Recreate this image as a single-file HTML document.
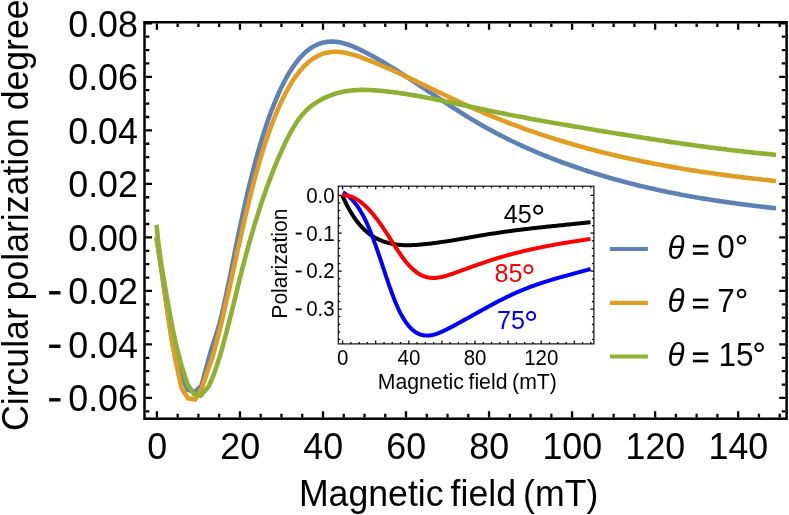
<!DOCTYPE html>
<html><head><meta charset="utf-8"><title>plot</title>
<style>html,body{margin:0;padding:0;background:#fff}body{width:789px;height:515px;overflow:hidden}svg{display:block;will-change:transform}text{font-family:"Liberation Sans",sans-serif;fill:#000}</style></head><body>
<svg width="789" height="515" viewBox="0 0 789 515">
<rect width="789" height="515" fill="#fff"/>
<path d="M156.5,237.5 L158.3,249.2 L160.1,261.2 L161.9,273.4 L163.7,285.8 L165.5,298.2 L167.4,310.5 L169.2,322.5 L171.0,334.1 L172.8,344.8 L174.6,354.4 L176.4,362.4 L181.4,377.5 L187.9,389.8 L194.8,392.0 L201.3,386.0 L208.2,360.6 L212.2,346.7 L213.6,342.4 L215.0,338.2 L216.4,333.9 L217.9,329.3 L219.3,324.3 L220.7,318.9 L222.1,313.2 L223.5,307.1 L224.9,300.8 L226.3,294.2 L227.7,287.4 L229.2,280.5 L230.6,273.6 L232.0,266.5 L233.4,259.5 L234.8,252.5 L236.2,245.5 L237.6,238.6 L239.0,231.8 L240.5,225.1 L241.9,218.4 L243.3,211.9 L244.7,205.5 L246.1,199.2 L247.5,193.1 L248.9,187.1 L250.4,181.3 L251.8,175.6 L253.2,170.1 L254.6,164.7 L256.0,159.4 L257.4,154.3 L258.8,149.4 L260.2,144.5 L261.7,139.8 L263.1,135.2 L264.5,130.8 L265.9,126.5 L267.3,122.3 L268.7,118.3 L270.1,114.3 L271.5,110.5 L273.0,106.8 L274.4,103.3 L275.8,99.8 L277.2,96.5 L278.6,93.3 L280.0,90.2 L281.4,87.2 L282.9,84.4 L284.3,81.6 L285.7,79.0 L287.1,76.4 L288.5,74.0 L289.9,71.6 L291.3,69.4 L292.7,67.3 L294.2,65.2 L295.6,63.3 L297.0,61.5 L298.4,59.7 L299.8,58.1 L301.2,56.5 L302.6,55.0 L304.0,53.6 L305.5,52.3 L306.9,51.1 L308.3,50.0 L309.7,48.9 L311.1,47.9 L312.5,47.0 L313.9,46.2 L315.4,45.5 L316.8,44.8 L318.2,44.2 L319.6,43.7 L321.0,43.2 L322.4,42.8 L323.8,42.4 L325.2,42.2 L326.7,41.9 L328.1,41.8 L329.5,41.7 L330.9,41.6 L332.3,41.6 L333.7,41.6 L335.1,41.7 L336.5,41.9 L338.0,42.1 L339.4,42.3 L340.8,42.6 L342.2,42.9 L343.6,43.3 L345.0,43.7 L346.4,44.1 L347.9,44.5 L349.3,45.0 L350.7,45.6 L352.1,46.1 L353.5,46.7 L354.9,47.3 L356.3,47.9 L357.7,48.5 L359.2,49.2 L360.6,49.9 L362.0,50.6 L363.4,51.3 L364.8,52.0 L366.2,52.7 L367.6,53.5 L369.0,54.2 L370.5,55.0 L371.9,55.7 L373.3,56.5 L374.7,57.3 L376.1,58.1 L377.5,58.9 L378.9,59.7 L380.4,60.5 L381.8,61.3 L383.2,62.2 L384.6,63.0 L386.0,63.9 L387.4,64.7 L388.8,65.6 L390.2,66.4 L391.7,67.3 L393.1,68.2 L394.5,69.0 L395.9,69.9 L397.3,70.8 L398.7,71.7 L400.1,72.6 L401.5,73.5 L403.0,74.4 L404.4,75.3 L405.8,76.3 L407.2,77.2 L408.6,78.1 L410.0,79.0 L411.4,80.0 L412.9,80.9 L414.3,81.8 L415.7,82.8 L417.1,83.7 L418.5,84.6 L419.9,85.6 L421.3,86.5 L422.7,87.5 L424.2,88.4 L425.6,89.4 L427.0,90.3 L428.4,91.3 L429.8,92.2 L431.2,93.2 L432.6,94.1 L434.0,95.0 L435.5,96.0 L436.9,96.9 L438.3,97.9 L439.7,98.8 L441.1,99.8 L442.5,100.7 L443.9,101.6 L445.4,102.6 L446.8,103.5 L448.2,104.4 L449.6,105.4 L451.0,106.3 L452.4,107.2 L453.8,108.1 L455.2,109.0 L456.7,109.9 L458.1,110.8 L459.5,111.7 L460.9,112.6 L462.3,113.5 L463.7,114.4 L465.1,115.3 L466.5,116.2 L468.0,117.0 L469.4,117.9 L470.8,118.7 L472.2,119.6 L473.6,120.4 L475.0,121.3 L476.4,122.1 L477.9,122.9 L479.3,123.7 L480.7,124.6 L482.1,125.4 L483.5,126.2 L484.9,127.0 L486.3,127.7 L487.7,128.5 L489.2,129.3 L490.6,130.1 L492.0,130.8 L493.4,131.6 L494.8,132.3 L496.2,133.1 L497.6,133.8 L499.0,134.6 L500.5,135.3 L501.9,136.0 L503.3,136.7 L504.7,137.5 L506.1,138.2 L507.5,138.9 L508.9,139.6 L510.3,140.3 L511.8,141.0 L513.2,141.6 L514.6,142.3 L516.0,143.0 L517.4,143.7 L518.8,144.3 L520.2,145.0 L521.7,145.6 L523.1,146.3 L524.5,146.9 L525.9,147.5 L527.3,148.2 L528.7,148.8 L530.1,149.4 L531.5,150.0 L533.0,150.7 L534.4,151.3 L535.8,151.9 L537.2,152.5 L538.6,153.1 L540.0,153.6 L541.4,154.2 L542.8,154.8 L544.3,155.4 L545.7,156.0 L547.1,156.5 L548.5,157.1 L549.9,157.6 L551.3,158.2 L552.7,158.8 L554.2,159.3 L555.6,159.8 L557.0,160.4 L558.4,160.9 L559.8,161.4 L561.2,162.0 L562.6,162.5 L564.0,163.0 L565.5,163.5 L566.9,164.0 L568.3,164.5 L569.7,165.0 L571.1,165.5 L572.5,166.0 L573.9,166.5 L575.3,167.0 L576.8,167.5 L578.2,168.0 L579.6,168.4 L581.0,168.9 L582.4,169.4 L583.8,169.9 L585.2,170.3 L586.7,170.8 L588.1,171.2 L589.5,171.7 L590.9,172.1 L592.3,172.6 L593.7,173.0 L595.1,173.5 L596.5,173.9 L598.0,174.3 L599.4,174.8 L600.8,175.2 L602.2,175.6 L603.6,176.0 L605.0,176.5 L606.4,176.9 L607.8,177.3 L609.3,177.7 L610.7,178.1 L612.1,178.5 L613.5,178.9 L614.9,179.3 L616.3,179.7 L617.7,180.1 L619.2,180.4 L620.6,180.8 L622.0,181.2 L623.4,181.6 L624.8,182.0 L626.2,182.3 L627.6,182.7 L629.0,183.1 L630.5,183.4 L631.9,183.8 L633.3,184.1 L634.7,184.5 L636.1,184.8 L637.5,185.2 L638.9,185.5 L640.3,185.9 L641.8,186.2 L643.2,186.6 L644.6,186.9 L646.0,187.2 L647.4,187.5 L648.8,187.9 L650.2,188.2 L651.7,188.5 L653.1,188.8 L654.5,189.1 L655.9,189.5 L657.3,189.8 L658.7,190.1 L660.1,190.4 L661.5,190.7 L663.0,191.0 L664.4,191.3 L665.8,191.6 L667.2,191.9 L668.6,192.2 L670.0,192.4 L671.4,192.7 L672.8,193.0 L674.3,193.3 L675.7,193.6 L677.1,193.8 L678.5,194.1 L679.9,194.4 L681.3,194.7 L682.7,194.9 L684.2,195.2 L685.6,195.4 L687.0,195.7 L688.4,196.0 L689.8,196.2 L691.2,196.5 L692.6,196.7 L694.0,197.0 L695.5,197.2 L696.9,197.5 L698.3,197.7 L699.7,197.9 L701.1,198.2 L702.5,198.4 L703.9,198.6 L705.3,198.9 L706.8,199.1 L708.2,199.3 L709.6,199.6 L711.0,199.8 L712.4,200.0 L713.8,200.2 L715.2,200.4 L716.7,200.7 L718.1,200.9 L719.5,201.1 L720.9,201.3 L722.3,201.5 L723.7,201.7 L725.1,201.9 L726.5,202.1 L728.0,202.3 L729.4,202.5 L730.8,202.7 L732.2,202.9 L733.6,203.1 L735.0,203.3 L736.4,203.5 L737.8,203.7 L739.3,203.9 L740.7,204.1 L742.1,204.2 L743.5,204.4 L744.9,204.6 L746.3,204.8 L747.7,205.0 L749.2,205.1 L750.6,205.3 L752.0,205.5 L753.4,205.7 L754.8,205.8 L756.2,206.0 L757.6,206.2 L759.0,206.3 L760.5,206.5 L761.9,206.7 L763.3,206.8 L764.7,207.0 L766.1,207.1 L767.5,207.3 L768.9,207.5 L770.3,207.6 L771.8,207.8 L773.2,207.9 L774.6,208.1 L776.0,208.2" fill="none" stroke="#5e81b5" stroke-width="4.6" stroke-linejoin="miter" stroke-linecap="butt"/>
<path d="M156.5,237.5 L158.4,248.8 L160.3,261.1 L162.3,274.3 L164.2,287.8 L166.1,301.5 L168.0,314.9 L169.9,327.7 L171.8,339.7 L173.8,350.8 L175.7,360.9 L177.6,370.0 L181.6,388.2 L188.0,398.3 L195.2,399.5 L201.6,389.0 L208.4,368.6 L212.4,357.4 L213.8,352.3 L215.2,347.1 L216.6,341.8 L218.1,336.2 L219.5,330.6 L220.9,324.8 L222.3,318.9 L223.7,312.9 L225.1,306.8 L226.5,300.6 L227.9,294.4 L229.4,288.1 L230.8,281.7 L232.2,275.3 L233.6,268.9 L235.0,262.5 L236.4,256.1 L237.8,249.7 L239.2,243.4 L240.7,237.0 L242.1,230.8 L243.5,224.6 L244.9,218.4 L246.3,212.4 L247.7,206.4 L249.1,200.6 L250.5,194.9 L252.0,189.3 L253.4,183.8 L254.8,178.5 L256.2,173.3 L257.6,168.3 L259.0,163.3 L260.4,158.5 L261.8,153.9 L263.3,149.3 L264.7,144.9 L266.1,140.6 L267.5,136.5 L268.9,132.4 L270.3,128.5 L271.7,124.7 L273.1,121.0 L274.6,117.4 L276.0,113.9 L277.4,110.5 L278.8,107.3 L280.2,104.2 L281.6,101.1 L283.0,98.2 L284.4,95.4 L285.9,92.7 L287.3,90.0 L288.7,87.5 L290.1,85.1 L291.5,82.8 L292.9,80.6 L294.3,78.5 L295.7,76.4 L297.2,74.5 L298.6,72.7 L300.0,70.9 L301.4,69.2 L302.8,67.7 L304.2,66.2 L305.6,64.8 L307.0,63.4 L308.5,62.2 L309.9,61.0 L311.3,60.0 L312.7,58.9 L314.1,58.0 L315.5,57.2 L316.9,56.4 L318.3,55.6 L319.8,55.0 L321.2,54.4 L322.6,53.9 L324.0,53.4 L325.4,53.0 L326.8,52.7 L328.2,52.4 L329.6,52.2 L331.1,52.0 L332.5,51.9 L333.9,51.8 L335.3,51.8 L336.7,51.8 L338.1,51.9 L339.5,52.0 L340.9,52.1 L342.4,52.3 L343.8,52.5 L345.2,52.8 L346.6,53.0 L348.0,53.4 L349.4,53.7 L350.8,54.1 L352.2,54.5 L353.7,54.9 L355.1,55.3 L356.5,55.8 L357.9,56.2 L359.3,56.7 L360.7,57.2 L362.1,57.8 L363.5,58.3 L365.0,58.8 L366.4,59.4 L367.8,59.9 L369.2,60.5 L370.6,61.0 L372.0,61.6 L373.4,62.2 L374.8,62.7 L376.3,63.3 L377.7,63.9 L379.1,64.5 L380.5,65.1 L381.9,65.7 L383.3,66.3 L384.7,66.9 L386.1,67.5 L387.6,68.1 L389.0,68.7 L390.4,69.4 L391.8,70.0 L393.2,70.6 L394.6,71.3 L396.0,71.9 L397.4,72.5 L398.9,73.2 L400.3,73.8 L401.7,74.5 L403.1,75.1 L404.5,75.8 L405.9,76.5 L407.3,77.1 L408.7,77.8 L410.2,78.4 L411.6,79.1 L413.0,79.8 L414.4,80.4 L415.8,81.1 L417.2,81.8 L418.6,82.5 L420.0,83.1 L421.5,83.8 L422.9,84.5 L424.3,85.2 L425.7,85.9 L427.1,86.5 L428.5,87.2 L429.9,87.9 L431.3,88.6 L432.8,89.3 L434.2,89.9 L435.6,90.6 L437.0,91.3 L438.4,92.0 L439.8,92.7 L441.2,93.3 L442.6,94.0 L444.1,94.7 L445.5,95.4 L446.9,96.0 L448.3,96.7 L449.7,97.4 L451.1,98.1 L452.5,98.7 L453.9,99.4 L455.4,100.1 L456.8,100.7 L458.2,101.4 L459.6,102.0 L461.0,102.7 L462.4,103.3 L463.8,104.0 L465.2,104.6 L466.7,105.3 L468.1,105.9 L469.5,106.6 L470.9,107.2 L472.3,107.8 L473.7,108.5 L475.1,109.1 L476.5,109.7 L478.0,110.3 L479.4,110.9 L480.8,111.5 L482.2,112.1 L483.6,112.7 L485.0,113.3 L486.4,113.9 L487.8,114.5 L489.3,115.1 L490.7,115.7 L492.1,116.3 L493.5,116.9 L494.9,117.4 L496.3,118.0 L497.7,118.6 L499.1,119.1 L500.6,119.7 L502.0,120.3 L503.4,120.8 L504.8,121.4 L506.2,121.9 L507.6,122.5 L509.0,123.0 L510.4,123.5 L511.9,124.1 L513.3,124.6 L514.7,125.1 L516.1,125.7 L517.5,126.2 L518.9,126.7 L520.3,127.2 L521.7,127.7 L523.2,128.3 L524.6,128.8 L526.0,129.3 L527.4,129.8 L528.8,130.3 L530.2,130.8 L531.6,131.3 L533.0,131.7 L534.5,132.2 L535.9,132.7 L537.3,133.2 L538.7,133.7 L540.1,134.1 L541.5,134.6 L542.9,135.1 L544.3,135.5 L545.8,136.0 L547.2,136.5 L548.6,136.9 L550.0,137.4 L551.4,137.8 L552.8,138.3 L554.2,138.7 L555.6,139.2 L557.1,139.6 L558.5,140.0 L559.9,140.5 L561.3,140.9 L562.7,141.3 L564.1,141.8 L565.5,142.2 L566.9,142.6 L568.4,143.0 L569.8,143.4 L571.2,143.8 L572.6,144.3 L574.0,144.7 L575.4,145.1 L576.8,145.5 L578.2,145.9 L579.7,146.3 L581.1,146.7 L582.5,147.0 L583.9,147.4 L585.3,147.8 L586.7,148.2 L588.1,148.6 L589.5,149.0 L591.0,149.3 L592.4,149.7 L593.8,150.1 L595.2,150.4 L596.6,150.8 L598.0,151.2 L599.4,151.5 L600.8,151.9 L602.3,152.2 L603.7,152.6 L605.1,152.9 L606.5,153.3 L607.9,153.6 L609.3,154.0 L610.7,154.3 L612.1,154.7 L613.6,155.0 L615.0,155.3 L616.4,155.7 L617.8,156.0 L619.2,156.3 L620.6,156.6 L622.0,157.0 L623.4,157.3 L624.9,157.6 L626.3,157.9 L627.7,158.2 L629.1,158.5 L630.5,158.8 L631.9,159.1 L633.3,159.4 L634.7,159.7 L636.2,160.0 L637.6,160.3 L639.0,160.6 L640.4,160.9 L641.8,161.2 L643.2,161.5 L644.6,161.8 L646.0,162.1 L647.5,162.4 L648.9,162.6 L650.3,162.9 L651.7,163.2 L653.1,163.5 L654.5,163.7 L655.9,164.0 L657.3,164.3 L658.8,164.6 L660.2,164.8 L661.6,165.1 L663.0,165.3 L664.4,165.6 L665.8,165.9 L667.2,166.1 L668.6,166.4 L670.1,166.6 L671.5,166.9 L672.9,167.1 L674.3,167.4 L675.7,167.6 L677.1,167.8 L678.5,168.1 L679.9,168.3 L681.4,168.6 L682.8,168.8 L684.2,169.0 L685.6,169.3 L687.0,169.5 L688.4,169.7 L689.8,169.9 L691.2,170.2 L692.7,170.4 L694.1,170.6 L695.5,170.8 L696.9,171.0 L698.3,171.3 L699.7,171.5 L701.1,171.7 L702.5,171.9 L704.0,172.1 L705.4,172.3 L706.8,172.5 L708.2,172.7 L709.6,172.9 L711.0,173.1 L712.4,173.3 L713.8,173.5 L715.3,173.7 L716.7,173.9 L718.1,174.1 L719.5,174.3 L720.9,174.5 L722.3,174.7 L723.7,174.9 L725.1,175.1 L726.6,175.3 L728.0,175.4 L729.4,175.6 L730.8,175.8 L732.2,176.0 L733.6,176.2 L735.0,176.4 L736.4,176.5 L737.9,176.7 L739.3,176.9 L740.7,177.1 L742.1,177.2 L743.5,177.4 L744.9,177.6 L746.3,177.7 L747.7,177.9 L749.2,178.1 L750.6,178.2 L752.0,178.4 L753.4,178.6 L754.8,178.7 L756.2,178.9 L757.6,179.0 L759.0,179.2 L760.5,179.4 L761.9,179.5 L763.3,179.7 L764.7,179.8 L766.1,180.0 L767.5,180.1 L768.9,180.3 L770.3,180.4 L771.8,180.6 L773.2,180.7 L774.6,180.9 L776.0,181.0" fill="none" stroke="#e19c24" stroke-width="4.6" stroke-linejoin="miter" stroke-linecap="butt"/>
<path d="M156.5,224.8 L158.2,241.8 L160.0,255.5 L161.7,267.0 L163.5,277.5 L165.2,287.7 L167.0,297.8 L168.7,307.6 L170.5,317.2 L172.2,326.3 L174.0,335.1 L175.7,343.4 L181.2,364.8 L187.8,384.9 L194.3,394.4 L200.7,395.6 L208.7,386.4 L212.7,377.2 L214.1,373.5 L215.5,369.6 L216.9,365.4 L218.3,361.0 L219.8,356.4 L221.2,351.6 L222.6,346.6 L224.0,341.5 L225.4,336.2 L226.8,330.8 L228.2,325.4 L229.6,319.8 L231.1,314.1 L232.5,308.5 L233.9,302.7 L235.3,297.0 L236.7,291.3 L238.1,285.6 L239.5,279.9 L240.9,274.3 L242.3,268.7 L243.8,263.3 L245.2,257.9 L246.6,252.6 L248.0,247.5 L249.4,242.4 L250.8,237.5 L252.2,232.6 L253.6,227.8 L255.1,223.1 L256.5,218.5 L257.9,214.0 L259.3,209.6 L260.7,205.3 L262.1,201.1 L263.5,196.9 L264.9,192.9 L266.3,188.9 L267.8,185.0 L269.2,181.1 L270.6,177.4 L272.0,173.7 L273.4,170.1 L274.8,166.6 L276.2,163.2 L277.6,159.8 L279.1,156.5 L280.5,153.3 L281.9,150.1 L283.3,147.0 L284.7,144.0 L286.1,141.1 L287.5,138.3 L288.9,135.5 L290.3,132.9 L291.8,130.3 L293.2,127.9 L294.6,125.6 L296.0,123.3 L297.4,121.2 L298.8,119.2 L300.2,117.3 L301.6,115.6 L303.1,113.9 L304.5,112.3 L305.9,110.9 L307.3,109.5 L308.7,108.2 L310.1,107.0 L311.5,105.9 L312.9,104.8 L314.3,103.8 L315.8,102.9 L317.2,102.0 L318.6,101.1 L320.0,100.3 L321.4,99.5 L322.8,98.8 L324.2,98.1 L325.6,97.4 L327.1,96.8 L328.5,96.2 L329.9,95.6 L331.3,95.1 L332.7,94.6 L334.1,94.1 L335.5,93.6 L336.9,93.2 L338.3,92.8 L339.8,92.5 L341.2,92.2 L342.6,91.8 L344.0,91.6 L345.4,91.3 L346.8,91.1 L348.2,90.9 L349.6,90.7 L351.1,90.5 L352.5,90.4 L353.9,90.3 L355.3,90.2 L356.7,90.1 L358.1,90.0 L359.5,90.0 L360.9,89.9 L362.3,89.9 L363.8,89.9 L365.2,89.9 L366.6,90.0 L368.0,90.0 L369.4,90.0 L370.8,90.1 L372.2,90.2 L373.6,90.3 L375.1,90.4 L376.5,90.5 L377.9,90.6 L379.3,90.7 L380.7,90.8 L382.1,91.0 L383.5,91.1 L384.9,91.2 L386.3,91.4 L387.8,91.6 L389.2,91.7 L390.6,91.9 L392.0,92.0 L393.4,92.2 L394.8,92.4 L396.2,92.6 L397.6,92.8 L399.1,93.0 L400.5,93.2 L401.9,93.4 L403.3,93.6 L404.7,93.8 L406.1,94.0 L407.5,94.2 L408.9,94.5 L410.3,94.7 L411.8,94.9 L413.2,95.2 L414.6,95.4 L416.0,95.6 L417.4,95.9 L418.8,96.1 L420.2,96.4 L421.6,96.6 L423.1,96.9 L424.5,97.2 L425.9,97.4 L427.3,97.7 L428.7,98.0 L430.1,98.2 L431.5,98.5 L432.9,98.8 L434.3,99.1 L435.8,99.4 L437.2,99.6 L438.6,99.9 L440.0,100.2 L441.4,100.5 L442.8,100.8 L444.2,101.1 L445.6,101.4 L447.1,101.7 L448.5,102.0 L449.9,102.3 L451.3,102.6 L452.7,102.9 L454.1,103.2 L455.5,103.5 L456.9,103.8 L458.3,104.1 L459.8,104.4 L461.2,104.7 L462.6,105.0 L464.0,105.3 L465.4,105.6 L466.8,105.9 L468.2,106.2 L469.6,106.5 L471.1,106.8 L472.5,107.1 L473.9,107.4 L475.3,107.7 L476.7,108.0 L478.1,108.3 L479.5,108.6 L480.9,108.9 L482.3,109.2 L483.8,109.5 L485.2,109.8 L486.6,110.1 L488.0,110.4 L489.4,110.7 L490.8,111.0 L492.2,111.3 L493.6,111.6 L495.1,111.9 L496.5,112.1 L497.9,112.4 L499.3,112.7 L500.7,113.0 L502.1,113.3 L503.5,113.6 L504.9,113.8 L506.4,114.1 L507.8,114.4 L509.2,114.7 L510.6,114.9 L512.0,115.2 L513.4,115.5 L514.8,115.7 L516.2,116.0 L517.6,116.3 L519.1,116.5 L520.5,116.8 L521.9,117.1 L523.3,117.3 L524.7,117.6 L526.1,117.9 L527.5,118.1 L528.9,118.4 L530.4,118.7 L531.8,118.9 L533.2,119.2 L534.6,119.4 L536.0,119.7 L537.4,119.9 L538.8,120.2 L540.2,120.4 L541.6,120.7 L543.1,120.9 L544.5,121.2 L545.9,121.5 L547.3,121.7 L548.7,122.0 L550.1,122.2 L551.5,122.4 L552.9,122.7 L554.4,122.9 L555.8,123.2 L557.2,123.4 L558.6,123.7 L560.0,123.9 L561.4,124.2 L562.8,124.4 L564.2,124.7 L565.6,124.9 L567.1,125.1 L568.5,125.4 L569.9,125.6 L571.3,125.9 L572.7,126.1 L574.1,126.4 L575.5,126.6 L576.9,126.8 L578.4,127.1 L579.8,127.3 L581.2,127.6 L582.6,127.8 L584.0,128.0 L585.4,128.3 L586.8,128.5 L588.2,128.8 L589.6,129.0 L591.1,129.2 L592.5,129.5 L593.9,129.7 L595.3,129.9 L596.7,130.2 L598.1,130.4 L599.5,130.7 L600.9,130.9 L602.4,131.1 L603.8,131.4 L605.2,131.6 L606.6,131.8 L608.0,132.1 L609.4,132.3 L610.8,132.5 L612.2,132.8 L613.6,133.0 L615.1,133.2 L616.5,133.5 L617.9,133.7 L619.3,133.9 L620.7,134.1 L622.1,134.4 L623.5,134.6 L624.9,134.8 L626.4,135.1 L627.8,135.3 L629.2,135.5 L630.6,135.7 L632.0,136.0 L633.4,136.2 L634.8,136.4 L636.2,136.6 L637.6,136.9 L639.1,137.1 L640.5,137.3 L641.9,137.5 L643.3,137.8 L644.7,138.0 L646.1,138.2 L647.5,138.4 L648.9,138.6 L650.4,138.9 L651.8,139.1 L653.2,139.3 L654.6,139.5 L656.0,139.7 L657.4,139.9 L658.8,140.2 L660.2,140.4 L661.6,140.6 L663.1,140.8 L664.5,141.0 L665.9,141.2 L667.3,141.4 L668.7,141.6 L670.1,141.9 L671.5,142.1 L672.9,142.3 L674.4,142.5 L675.8,142.7 L677.2,142.9 L678.6,143.1 L680.0,143.3 L681.4,143.5 L682.8,143.7 L684.2,143.9 L685.6,144.1 L687.1,144.3 L688.5,144.5 L689.9,144.7 L691.3,144.9 L692.7,145.1 L694.1,145.3 L695.5,145.5 L696.9,145.7 L698.4,145.9 L699.8,146.1 L701.2,146.2 L702.6,146.4 L704.0,146.6 L705.4,146.8 L706.8,147.0 L708.2,147.2 L709.6,147.4 L711.1,147.6 L712.5,147.7 L713.9,147.9 L715.3,148.1 L716.7,148.3 L718.1,148.5 L719.5,148.6 L720.9,148.8 L722.4,149.0 L723.8,149.2 L725.2,149.3 L726.6,149.5 L728.0,149.7 L729.4,149.9 L730.8,150.0 L732.2,150.2 L733.6,150.4 L735.1,150.5 L736.5,150.7 L737.9,150.8 L739.3,151.0 L740.7,151.2 L742.1,151.3 L743.5,151.5 L744.9,151.7 L746.4,151.8 L747.8,152.0 L749.2,152.1 L750.6,152.3 L752.0,152.4 L753.4,152.6 L754.8,152.7 L756.2,152.9 L757.6,153.0 L759.1,153.2 L760.5,153.3 L761.9,153.5 L763.3,153.6 L764.7,153.7 L766.1,153.9 L767.5,154.0 L768.9,154.1 L770.4,154.3 L771.8,154.4 L773.2,154.6 L774.6,154.7 L776.0,154.8" fill="none" stroke="#8fb032" stroke-width="4.6" stroke-linejoin="miter" stroke-linecap="butt"/>
<rect x="144.5" y="22.25" width="642.1" height="396.45" fill="none" stroke="#000" stroke-width="2.5"/>
<path d="M156.90,23.5v6.2M156.90,417.45v-6.2M177.66,23.5v3.6M177.66,417.45v-3.6M198.42,23.5v3.6M198.42,417.45v-3.6M219.18,23.5v3.6M219.18,417.45v-3.6M239.94,23.5v6.2M239.94,417.45v-6.2M260.70,23.5v3.6M260.70,417.45v-3.6M281.46,23.5v3.6M281.46,417.45v-3.6M302.22,23.5v3.6M302.22,417.45v-3.6M322.98,23.5v6.2M322.98,417.45v-6.2M343.74,23.5v3.6M343.74,417.45v-3.6M364.50,23.5v3.6M364.50,417.45v-3.6M385.26,23.5v3.6M385.26,417.45v-3.6M406.02,23.5v6.2M406.02,417.45v-6.2M426.78,23.5v3.6M426.78,417.45v-3.6M447.54,23.5v3.6M447.54,417.45v-3.6M468.30,23.5v3.6M468.30,417.45v-3.6M489.06,23.5v6.2M489.06,417.45v-6.2M509.82,23.5v3.6M509.82,417.45v-3.6M530.58,23.5v3.6M530.58,417.45v-3.6M551.34,23.5v3.6M551.34,417.45v-3.6M572.10,23.5v6.2M572.10,417.45v-6.2M592.86,23.5v3.6M592.86,417.45v-3.6M613.62,23.5v3.6M613.62,417.45v-3.6M634.38,23.5v3.6M634.38,417.45v-3.6M655.14,23.5v6.2M655.14,417.45v-6.2M675.90,23.5v3.6M675.90,417.45v-3.6M696.66,23.5v3.6M696.66,417.45v-3.6M717.42,23.5v3.6M717.42,417.45v-3.6M738.18,23.5v6.2M738.18,417.45v-6.2M758.94,23.5v3.6M758.94,417.45v-3.6M779.70,23.5v3.6M779.70,417.45v-3.6M145.75,411.34h3.6M785.35,411.34h-3.6M145.75,397.96h6.2M785.35,397.96h-6.2M145.75,384.58h3.6M785.35,384.58h-3.6M145.75,371.20h3.6M785.35,371.20h-3.6M145.75,357.82h3.6M785.35,357.82h-3.6M145.75,344.44h6.2M785.35,344.44h-6.2M145.75,331.06h3.6M785.35,331.06h-3.6M145.75,317.68h3.6M785.35,317.68h-3.6M145.75,304.30h3.6M785.35,304.30h-3.6M145.75,290.92h6.2M785.35,290.92h-6.2M145.75,277.54h3.6M785.35,277.54h-3.6M145.75,264.16h3.6M785.35,264.16h-3.6M145.75,250.78h3.6M785.35,250.78h-3.6M145.75,237.40h6.2M785.35,237.40h-6.2M145.75,224.02h3.6M785.35,224.02h-3.6M145.75,210.64h3.6M785.35,210.64h-3.6M145.75,197.26h3.6M785.35,197.26h-3.6M145.75,183.88h6.2M785.35,183.88h-6.2M145.75,170.50h3.6M785.35,170.50h-3.6M145.75,157.12h3.6M785.35,157.12h-3.6M145.75,143.74h3.6M785.35,143.74h-3.6M145.75,130.36h6.2M785.35,130.36h-6.2M145.75,116.98h3.6M785.35,116.98h-3.6M145.75,103.60h3.6M785.35,103.60h-3.6M145.75,90.22h3.6M785.35,90.22h-3.6M145.75,76.84h6.2M785.35,76.84h-6.2M145.75,63.46h3.6M785.35,63.46h-3.6M145.75,50.08h3.6M785.35,50.08h-3.6M145.75,36.70h3.6M785.35,36.70h-3.6M145.75,23.32h6.2M785.35,23.32h-6.2" stroke="#000" stroke-width="2.3" fill="none"/>
<text transform="translate(157.10,458.60) scale(1,1.05)" font-size="35.8" text-anchor="middle">0</text>
<text transform="translate(240.14,458.60) scale(1,1.05)" font-size="35.8" text-anchor="middle">20</text>
<text transform="translate(323.18,458.60) scale(1,1.05)" font-size="35.8" text-anchor="middle">40</text>
<text transform="translate(406.22,458.60) scale(1,1.05)" font-size="35.8" text-anchor="middle">60</text>
<text transform="translate(489.26,458.60) scale(1,1.05)" font-size="35.8" text-anchor="middle">80</text>
<text transform="translate(572.30,458.60) scale(1,1.05)" font-size="35.8" text-anchor="middle">100</text>
<text transform="translate(655.34,458.60) scale(1,1.05)" font-size="35.8" text-anchor="middle">120</text>
<text transform="translate(738.38,458.60) scale(1,1.05)" font-size="35.8" text-anchor="middle">140</text>
<text transform="translate(137.90,411.26) scale(1,1.05)" font-size="35.8" text-anchor="end">0.06</text>
<rect x="49.1" y="398.11" width="11.4" height="3.4" fill="#000"/>
<text transform="translate(137.90,357.74) scale(1,1.05)" font-size="35.8" text-anchor="end">0.04</text>
<rect x="49.1" y="344.59" width="11.4" height="3.4" fill="#000"/>
<text transform="translate(137.90,304.22) scale(1,1.05)" font-size="35.8" text-anchor="end">0.02</text>
<rect x="49.1" y="291.07" width="11.4" height="3.4" fill="#000"/>
<text transform="translate(137.90,250.70) scale(1,1.05)" font-size="35.8" text-anchor="end">0.00</text>
<text transform="translate(137.90,197.18) scale(1,1.05)" font-size="35.8" text-anchor="end">0.02</text>
<text transform="translate(137.90,143.66) scale(1,1.05)" font-size="35.8" text-anchor="end">0.04</text>
<text transform="translate(137.90,90.14) scale(1,1.05)" font-size="35.8" text-anchor="end">0.06</text>
<text transform="translate(137.90,36.62) scale(1,1.05)" font-size="35.8" text-anchor="end">0.08</text>
<text transform="translate(448.60,505.90) scale(1,1.02)" font-size="35.66" text-anchor="middle" word-spacing="-2.8">Magnetic field (mT)</text>
<text transform="translate(27.80,215.20) rotate(-90) scale(1,1.02)" font-size="35.66" text-anchor="middle" word-spacing="-2.1">Circular polarization degree</text>
<path d="M609.9,249.0H647.9" stroke="#5e81b5" stroke-width="4.2" fill="none"/>
<text transform="translate(667.60,258.50) scale(1,1.03)" font-size="31.5" text-anchor="start" font-style="italic">θ</text>
<rect x="692.9" y="244.85" width="15.4" height="2.6" fill="#000"/><rect x="692.9" y="252.20" width="15.4" height="2.6" fill="#000"/>
<text transform="translate(717.20,258.30) scale(1,1.06)" font-size="31.5" text-anchor="start">0</text>
<circle cx="741.5" cy="239.80" r="3.8" fill="none" stroke="#000" stroke-width="2"/>
<path d="M609.9,302.8H647.9" stroke="#e19c24" stroke-width="4.2" fill="none"/>
<text transform="translate(667.60,312.25) scale(1,1.03)" font-size="31.5" text-anchor="start" font-style="italic">θ</text>
<rect x="692.9" y="298.60" width="15.4" height="2.6" fill="#000"/><rect x="692.9" y="305.95" width="15.4" height="2.6" fill="#000"/>
<text transform="translate(717.20,312.05) scale(1,1.06)" font-size="31.5" text-anchor="start">7</text>
<circle cx="741.6" cy="293.55" r="3.8" fill="none" stroke="#000" stroke-width="2"/>
<path d="M609.9,356.5H647.9" stroke="#8fb032" stroke-width="4.2" fill="none"/>
<text transform="translate(667.60,366.00) scale(1,1.03)" font-size="31.5" text-anchor="start" font-style="italic">θ</text>
<rect x="692.9" y="352.35" width="15.4" height="2.6" fill="#000"/><rect x="692.9" y="359.70" width="15.4" height="2.6" fill="#000"/>
<text transform="translate(718.60,365.80) scale(1,1.06)" font-size="31.5" text-anchor="start">15</text>
<circle cx="759.1" cy="347.30" r="3.8" fill="none" stroke="#000" stroke-width="2"/>
<path d="M342.2,195.3 L342.8,196.7 L343.4,198.0 L344.1,199.4 L344.7,200.7 L345.3,202.0 L345.9,203.2 L346.6,204.5 L347.2,205.7 L347.8,206.8 L348.4,208.0 L349.0,209.1 L349.7,210.2 L350.3,211.3 L350.9,212.3 L351.5,213.4 L352.2,214.4 L352.8,215.3 L353.4,216.3 L354.0,217.2 L354.6,218.1 L355.3,219.0 L355.9,219.9 L356.5,220.7 L357.1,221.6 L357.8,222.4 L358.4,223.1 L359.0,223.9 L359.6,224.6 L360.2,225.4 L360.9,226.1 L361.5,226.7 L362.1,227.4 L362.7,228.1 L363.4,228.7 L364.0,229.3 L364.6,229.9 L365.2,230.5 L365.8,231.0 L366.5,231.6 L367.1,232.1 L367.7,232.6 L368.3,233.1 L369.0,233.6 L369.6,234.1 L370.2,234.5 L370.8,235.0 L371.4,235.4 L372.1,235.8 L372.7,236.2 L373.3,236.6 L373.9,237.0 L374.6,237.3 L375.2,237.7 L375.8,238.0 L376.4,238.3 L377.0,238.7 L377.7,239.0 L378.3,239.3 L378.9,239.6 L379.5,239.8 L380.2,240.1 L380.8,240.4 L381.4,240.6 L382.0,240.9 L382.6,241.1 L383.3,241.3 L383.9,241.6 L384.5,241.8 L385.1,242.0 L385.8,242.2 L386.4,242.4 L387.0,242.6 L387.6,242.7 L388.3,242.9 L388.9,243.1 L389.5,243.2 L390.1,243.4 L390.7,243.5 L391.4,243.7 L392.0,243.8 L392.6,243.9 L393.2,244.0 L393.9,244.1 L394.5,244.2 L395.1,244.3 L395.7,244.4 L396.3,244.5 L397.0,244.6 L397.6,244.7 L398.2,244.8 L398.8,244.8 L399.5,244.9 L400.1,244.9 L400.7,245.0 L401.3,245.0 L401.9,245.1 L402.6,245.1 L403.2,245.1 L403.8,245.2 L404.4,245.2 L405.1,245.2 L405.7,245.2 L406.3,245.2 L406.9,245.2 L407.5,245.2 L408.2,245.2 L408.8,245.2 L409.4,245.2 L410.0,245.2 L410.7,245.2 L411.3,245.2 L411.9,245.1 L412.5,245.1 L413.1,245.1 L413.8,245.0 L414.4,245.0 L415.0,245.0 L415.6,244.9 L416.3,244.9 L416.9,244.9 L417.5,244.8 L418.1,244.8 L418.7,244.7 L419.4,244.7 L420.0,244.6 L420.6,244.6 L421.2,244.5 L421.9,244.4 L422.5,244.4 L423.1,244.3 L423.7,244.3 L424.3,244.2 L425.0,244.1 L425.6,244.1 L426.2,244.0 L426.8,243.9 L427.5,243.9 L428.1,243.8 L428.7,243.7 L429.3,243.7 L429.9,243.6 L430.6,243.5 L431.2,243.4 L431.8,243.4 L432.4,243.3 L433.1,243.2 L433.7,243.1 L434.3,243.0 L434.9,243.0 L435.5,242.9 L436.2,242.8 L436.8,242.7 L437.4,242.6 L438.0,242.5 L438.7,242.5 L439.3,242.4 L439.9,242.3 L440.5,242.2 L441.1,242.1 L441.8,242.0 L442.4,241.9 L443.0,241.8 L443.6,241.7 L444.3,241.7 L444.9,241.6 L445.5,241.5 L446.1,241.4 L446.7,241.3 L447.4,241.2 L448.0,241.1 L448.6,241.0 L449.2,240.9 L449.9,240.8 L450.5,240.7 L451.1,240.6 L451.7,240.5 L452.3,240.4 L453.0,240.3 L453.6,240.2 L454.2,240.1 L454.8,240.0 L455.5,239.9 L456.1,239.8 L456.7,239.7 L457.3,239.6 L457.9,239.4 L458.6,239.3 L459.2,239.2 L459.8,239.1 L460.4,239.0 L461.1,238.9 L461.7,238.8 L462.3,238.7 L462.9,238.6 L463.5,238.5 L464.2,238.4 L464.8,238.3 L465.4,238.2 L466.0,238.1 L466.7,238.0 L467.3,237.8 L467.9,237.7 L468.5,237.6 L469.2,237.5 L469.8,237.4 L470.4,237.3 L471.0,237.2 L471.6,237.1 L472.3,237.0 L472.9,236.9 L473.5,236.8 L474.1,236.7 L474.8,236.5 L475.4,236.4 L476.0,236.3 L476.6,236.2 L477.2,236.1 L477.9,236.0 L478.5,235.9 L479.1,235.8 L479.7,235.7 L480.4,235.6 L481.0,235.5 L481.6,235.4 L482.2,235.3 L482.8,235.2 L483.5,235.1 L484.1,235.0 L484.7,234.9 L485.3,234.8 L486.0,234.6 L486.6,234.5 L487.2,234.4 L487.8,234.3 L488.4,234.2 L489.1,234.1 L489.7,234.0 L490.3,233.9 L490.9,233.8 L491.6,233.7 L492.2,233.6 L492.8,233.6 L493.4,233.5 L494.0,233.4 L494.7,233.3 L495.3,233.2 L495.9,233.1 L496.5,233.0 L497.2,232.9 L497.8,232.8 L498.4,232.7 L499.0,232.6 L499.6,232.5 L500.3,232.4 L500.9,232.3 L501.5,232.2 L502.1,232.2 L502.8,232.1 L503.4,232.0 L504.0,231.9 L504.6,231.8 L505.2,231.7 L505.9,231.6 L506.5,231.5 L507.1,231.5 L507.7,231.4 L508.4,231.3 L509.0,231.2 L509.6,231.1 L510.2,231.0 L510.8,231.0 L511.5,230.9 L512.1,230.8 L512.7,230.7 L513.3,230.6 L514.0,230.5 L514.6,230.5 L515.2,230.4 L515.8,230.3 L516.4,230.2 L517.1,230.1 L517.7,230.1 L518.3,230.0 L518.9,229.9 L519.6,229.8 L520.2,229.8 L520.8,229.7 L521.4,229.6 L522.0,229.5 L522.7,229.4 L523.3,229.4 L523.9,229.3 L524.5,229.2 L525.2,229.1 L525.8,229.1 L526.4,229.0 L527.0,228.9 L527.6,228.9 L528.3,228.8 L528.9,228.7 L529.5,228.6 L530.1,228.6 L530.8,228.5 L531.4,228.4 L532.0,228.3 L532.6,228.3 L533.2,228.2 L533.9,228.1 L534.5,228.1 L535.1,228.0 L535.7,227.9 L536.4,227.9 L537.0,227.8 L537.6,227.7 L538.2,227.6 L538.8,227.6 L539.5,227.5 L540.1,227.4 L540.7,227.4 L541.3,227.3 L542.0,227.2 L542.6,227.2 L543.2,227.1 L543.8,227.0 L544.4,227.0 L545.1,226.9 L545.7,226.8 L546.3,226.8 L546.9,226.7 L547.6,226.6 L548.2,226.6 L548.8,226.5 L549.4,226.4 L550.1,226.4 L550.7,226.3 L551.3,226.2 L551.9,226.2 L552.5,226.1 L553.2,226.0 L553.8,226.0 L554.4,225.9 L555.0,225.9 L555.7,225.8 L556.3,225.7 L556.9,225.7 L557.5,225.6 L558.1,225.5 L558.8,225.5 L559.4,225.4 L560.0,225.3 L560.6,225.3 L561.3,225.2 L561.9,225.2 L562.5,225.1 L563.1,225.0 L563.7,225.0 L564.4,224.9 L565.0,224.8 L565.6,224.8 L566.2,224.7 L566.9,224.6 L567.5,224.6 L568.1,224.5 L568.7,224.5 L569.3,224.4 L570.0,224.3 L570.6,224.3 L571.2,224.2 L571.8,224.1 L572.5,224.1 L573.1,224.0 L573.7,223.9 L574.3,223.9 L574.9,223.8 L575.6,223.8 L576.2,223.7 L576.8,223.6 L577.4,223.6 L578.1,223.5 L578.7,223.4 L579.3,223.4 L579.9,223.3 L580.5,223.2 L581.2,223.2 L581.8,223.1 L582.4,223.0 L583.0,223.0 L583.7,222.9 L584.3,222.9 L584.9,222.8 L585.5,222.7 L586.1,222.7 L586.8,222.6 L587.4,222.5 L588.0,222.5 L588.6,222.4 L589.3,222.3 L589.9,222.3 L590.5,222.2" fill="none" stroke="#000" stroke-width="4.0" stroke-linejoin="round"/>
<path d="M342.9,192.3 L343.5,192.6 L344.1,193.0 L344.8,193.4 L345.4,193.8 L346.0,194.2 L346.6,194.7 L347.2,195.2 L347.9,195.7 L348.5,196.2 L349.1,196.7 L349.7,197.3 L350.3,197.9 L351.0,198.5 L351.6,199.1 L352.2,199.7 L352.8,200.4 L353.4,201.1 L354.1,201.9 L354.7,202.6 L355.3,203.4 L355.9,204.2 L356.6,205.0 L357.2,205.9 L357.8,206.8 L358.4,207.7 L359.0,208.6 L359.7,209.6 L360.3,210.6 L360.9,211.7 L361.5,212.7 L362.1,213.8 L362.8,215.0 L363.4,216.1 L364.0,217.3 L364.6,218.6 L365.2,219.8 L365.9,221.1 L366.5,222.4 L367.1,223.8 L367.7,225.2 L368.3,226.6 L369.0,228.1 L369.6,229.6 L370.2,231.1 L370.8,232.6 L371.4,234.2 L372.1,235.8 L372.7,237.4 L373.3,239.0 L373.9,240.7 L374.5,242.4 L375.2,244.1 L375.8,245.8 L376.4,247.6 L377.0,249.4 L377.7,251.2 L378.3,253.0 L378.9,254.8 L379.5,256.6 L380.1,258.5 L380.8,260.3 L381.4,262.2 L382.0,264.0 L382.6,265.9 L383.2,267.8 L383.9,269.6 L384.5,271.5 L385.1,273.4 L385.7,275.2 L386.3,277.1 L387.0,278.9 L387.6,280.8 L388.2,282.6 L388.8,284.4 L389.4,286.2 L390.1,287.9 L390.7,289.7 L391.3,291.4 L391.9,293.1 L392.5,294.8 L393.2,296.4 L393.8,298.0 L394.4,299.6 L395.0,301.2 L395.6,302.7 L396.3,304.2 L396.9,305.6 L397.5,307.0 L398.1,308.4 L398.7,309.7 L399.4,311.0 L400.0,312.3 L400.6,313.5 L401.2,314.6 L401.9,315.8 L402.5,316.9 L403.1,317.9 L403.7,318.9 L404.3,319.9 L405.0,320.9 L405.6,321.8 L406.2,322.7 L406.8,323.5 L407.4,324.3 L408.1,325.1 L408.7,325.9 L409.3,326.6 L409.9,327.3 L410.5,327.9 L411.2,328.5 L411.8,329.1 L412.4,329.7 L413.0,330.2 L413.6,330.7 L414.3,331.2 L414.9,331.7 L415.5,332.1 L416.1,332.5 L416.7,332.9 L417.4,333.2 L418.0,333.5 L418.6,333.8 L419.2,334.1 L419.8,334.3 L420.5,334.6 L421.1,334.8 L421.7,334.9 L422.3,335.1 L423.0,335.2 L423.6,335.4 L424.2,335.5 L424.8,335.5 L425.4,335.6 L426.1,335.6 L426.7,335.6 L427.3,335.6 L427.9,335.6 L428.5,335.6 L429.2,335.5 L429.8,335.5 L430.4,335.4 L431.0,335.3 L431.6,335.2 L432.3,335.1 L432.9,334.9 L433.5,334.8 L434.1,334.6 L434.7,334.4 L435.4,334.3 L436.0,334.1 L436.6,333.9 L437.2,333.6 L437.8,333.4 L438.5,333.2 L439.1,332.9 L439.7,332.7 L440.3,332.4 L440.9,332.1 L441.6,331.9 L442.2,331.6 L442.8,331.3 L443.4,331.0 L444.0,330.7 L444.7,330.4 L445.3,330.1 L445.9,329.8 L446.5,329.5 L447.2,329.2 L447.8,328.8 L448.4,328.5 L449.0,328.2 L449.6,327.9 L450.3,327.6 L450.9,327.2 L451.5,326.9 L452.1,326.6 L452.7,326.3 L453.4,325.9 L454.0,325.6 L454.6,325.3 L455.2,324.9 L455.8,324.6 L456.5,324.3 L457.1,323.9 L457.7,323.6 L458.3,323.3 L458.9,322.9 L459.6,322.6 L460.2,322.3 L460.8,321.9 L461.4,321.6 L462.0,321.2 L462.7,320.9 L463.3,320.6 L463.9,320.2 L464.5,319.9 L465.1,319.5 L465.8,319.2 L466.4,318.8 L467.0,318.5 L467.6,318.1 L468.3,317.8 L468.9,317.5 L469.5,317.1 L470.1,316.8 L470.7,316.4 L471.4,316.1 L472.0,315.7 L472.6,315.4 L473.2,315.0 L473.8,314.7 L474.5,314.3 L475.1,314.0 L475.7,313.6 L476.3,313.3 L476.9,313.0 L477.6,312.6 L478.2,312.3 L478.8,311.9 L479.4,311.6 L480.0,311.2 L480.7,310.9 L481.3,310.5 L481.9,310.2 L482.5,309.8 L483.1,309.5 L483.8,309.2 L484.4,308.8 L485.0,308.5 L485.6,308.1 L486.2,307.8 L486.9,307.5 L487.5,307.1 L488.1,306.8 L488.7,306.4 L489.4,306.1 L490.0,305.8 L490.6,305.4 L491.2,305.1 L491.8,304.8 L492.5,304.4 L493.1,304.1 L493.7,303.8 L494.3,303.4 L494.9,303.1 L495.6,302.8 L496.2,302.4 L496.8,302.1 L497.4,301.8 L498.0,301.5 L498.7,301.1 L499.3,300.8 L499.9,300.5 L500.5,300.2 L501.1,299.9 L501.8,299.5 L502.4,299.2 L503.0,298.9 L503.6,298.6 L504.2,298.3 L504.9,298.0 L505.5,297.7 L506.1,297.4 L506.7,297.1 L507.3,296.8 L508.0,296.5 L508.6,296.2 L509.2,295.9 L509.8,295.6 L510.4,295.3 L511.1,295.0 L511.7,294.7 L512.3,294.4 L512.9,294.1 L513.6,293.8 L514.2,293.5 L514.8,293.3 L515.4,293.0 L516.0,292.7 L516.7,292.4 L517.3,292.2 L517.9,291.9 L518.5,291.6 L519.1,291.4 L519.8,291.1 L520.4,290.8 L521.0,290.6 L521.6,290.3 L522.2,290.1 L522.9,289.8 L523.5,289.6 L524.1,289.3 L524.7,289.1 L525.3,288.8 L526.0,288.6 L526.6,288.3 L527.2,288.1 L527.8,287.9 L528.4,287.6 L529.1,287.4 L529.7,287.1 L530.3,286.9 L530.9,286.7 L531.5,286.5 L532.2,286.2 L532.8,286.0 L533.4,285.8 L534.0,285.6 L534.7,285.3 L535.3,285.1 L535.9,284.9 L536.5,284.7 L537.1,284.5 L537.8,284.3 L538.4,284.1 L539.0,283.8 L539.6,283.6 L540.2,283.4 L540.9,283.2 L541.5,283.0 L542.1,282.8 L542.7,282.6 L543.3,282.4 L544.0,282.2 L544.6,282.0 L545.2,281.8 L545.8,281.6 L546.4,281.4 L547.1,281.2 L547.7,281.0 L548.3,280.8 L548.9,280.7 L549.5,280.5 L550.2,280.3 L550.8,280.1 L551.4,279.9 L552.0,279.7 L552.6,279.5 L553.3,279.3 L553.9,279.2 L554.5,279.0 L555.1,278.8 L555.7,278.6 L556.4,278.4 L557.0,278.3 L557.6,278.1 L558.2,277.9 L558.9,277.7 L559.5,277.5 L560.1,277.4 L560.7,277.2 L561.3,277.0 L562.0,276.8 L562.6,276.7 L563.2,276.5 L563.8,276.3 L564.4,276.2 L565.1,276.0 L565.7,275.8 L566.3,275.6 L566.9,275.5 L567.5,275.3 L568.2,275.1 L568.8,275.0 L569.4,274.8 L570.0,274.6 L570.6,274.5 L571.3,274.3 L571.9,274.1 L572.5,273.9 L573.1,273.8 L573.7,273.6 L574.4,273.4 L575.0,273.3 L575.6,273.1 L576.2,272.9 L576.8,272.8 L577.5,272.6 L578.1,272.4 L578.7,272.3 L579.3,272.1 L580.0,271.9 L580.6,271.8 L581.2,271.6 L581.8,271.4 L582.4,271.3 L583.1,271.1 L583.7,270.9 L584.3,270.7 L584.9,270.6 L585.5,270.4 L586.2,270.2 L586.8,270.1 L587.4,269.9 L588.0,269.7 L588.6,269.5 L589.3,269.4 L589.9,269.2 L590.5,269.0" fill="none" stroke="#00f" stroke-width="4.0" stroke-linejoin="round"/>
<path d="M342.2,195.3 L342.8,195.2 L343.4,195.2 L344.1,195.2 L344.7,195.3 L345.3,195.3 L345.9,195.4 L346.6,195.4 L347.2,195.5 L347.8,195.6 L348.4,195.8 L349.0,195.9 L349.7,196.1 L350.3,196.3 L350.9,196.5 L351.5,196.7 L352.2,197.0 L352.8,197.2 L353.4,197.5 L354.0,197.8 L354.6,198.1 L355.3,198.4 L355.9,198.8 L356.5,199.2 L357.1,199.5 L357.8,199.9 L358.4,200.3 L359.0,200.8 L359.6,201.2 L360.2,201.7 L360.9,202.1 L361.5,202.6 L362.1,203.1 L362.7,203.6 L363.4,204.2 L364.0,204.7 L364.6,205.3 L365.2,205.9 L365.8,206.4 L366.5,207.0 L367.1,207.7 L367.7,208.3 L368.3,208.9 L369.0,209.6 L369.6,210.3 L370.2,210.9 L370.8,211.6 L371.4,212.3 L372.1,213.1 L372.7,213.8 L373.3,214.6 L373.9,215.3 L374.6,216.1 L375.2,216.9 L375.8,217.7 L376.4,218.5 L377.0,219.3 L377.7,220.1 L378.3,220.9 L378.9,221.8 L379.5,222.7 L380.2,223.5 L380.8,224.4 L381.4,225.3 L382.0,226.2 L382.6,227.1 L383.3,228.0 L383.9,229.0 L384.5,229.9 L385.1,230.8 L385.8,231.8 L386.4,232.8 L387.0,233.7 L387.6,234.7 L388.3,235.7 L388.9,236.7 L389.5,237.6 L390.1,238.6 L390.7,239.6 L391.4,240.6 L392.0,241.6 L392.6,242.6 L393.2,243.5 L393.9,244.5 L394.5,245.5 L395.1,246.5 L395.7,247.4 L396.3,248.4 L397.0,249.3 L397.6,250.3 L398.2,251.2 L398.8,252.1 L399.5,253.0 L400.1,253.9 L400.7,254.8 L401.3,255.7 L401.9,256.6 L402.6,257.4 L403.2,258.3 L403.8,259.1 L404.4,259.9 L405.1,260.7 L405.7,261.5 L406.3,262.2 L406.9,263.0 L407.5,263.7 L408.2,264.4 L408.8,265.1 L409.4,265.8 L410.0,266.4 L410.7,267.1 L411.3,267.7 L411.9,268.3 L412.5,268.9 L413.1,269.4 L413.8,270.0 L414.4,270.5 L415.0,271.0 L415.6,271.5 L416.3,272.0 L416.9,272.4 L417.5,272.9 L418.1,273.3 L418.7,273.7 L419.4,274.1 L420.0,274.4 L420.6,274.8 L421.2,275.1 L421.9,275.4 L422.5,275.7 L423.1,275.9 L423.7,276.2 L424.3,276.4 L425.0,276.6 L425.6,276.8 L426.2,277.0 L426.8,277.2 L427.5,277.3 L428.1,277.4 L428.7,277.6 L429.3,277.7 L429.9,277.7 L430.6,277.8 L431.2,277.9 L431.8,277.9 L432.4,277.9 L433.1,277.9 L433.7,277.9 L434.3,277.9 L434.9,277.9 L435.5,277.9 L436.2,277.8 L436.8,277.8 L437.4,277.7 L438.0,277.6 L438.7,277.5 L439.3,277.4 L439.9,277.3 L440.5,277.2 L441.1,277.1 L441.8,276.9 L442.4,276.8 L443.0,276.7 L443.6,276.5 L444.3,276.3 L444.9,276.2 L445.5,276.0 L446.1,275.8 L446.7,275.6 L447.4,275.4 L448.0,275.2 L448.6,275.1 L449.2,274.8 L449.9,274.6 L450.5,274.4 L451.1,274.2 L451.7,274.0 L452.3,273.8 L453.0,273.6 L453.6,273.4 L454.2,273.1 L454.8,272.9 L455.5,272.7 L456.1,272.5 L456.7,272.3 L457.3,272.0 L457.9,271.8 L458.6,271.6 L459.2,271.4 L459.8,271.1 L460.4,270.9 L461.1,270.7 L461.7,270.5 L462.3,270.2 L462.9,270.0 L463.5,269.8 L464.2,269.6 L464.8,269.3 L465.4,269.1 L466.0,268.9 L466.7,268.7 L467.3,268.4 L467.9,268.2 L468.5,268.0 L469.2,267.8 L469.8,267.5 L470.4,267.3 L471.0,267.1 L471.6,266.9 L472.3,266.6 L472.9,266.4 L473.5,266.2 L474.1,266.0 L474.8,265.7 L475.4,265.5 L476.0,265.3 L476.6,265.1 L477.2,264.9 L477.9,264.6 L478.5,264.4 L479.1,264.2 L479.7,264.0 L480.4,263.8 L481.0,263.6 L481.6,263.3 L482.2,263.1 L482.8,262.9 L483.5,262.7 L484.1,262.5 L484.7,262.3 L485.3,262.1 L486.0,261.8 L486.6,261.6 L487.2,261.4 L487.8,261.2 L488.4,261.0 L489.1,260.8 L489.7,260.6 L490.3,260.4 L490.9,260.2 L491.6,260.0 L492.2,259.8 L492.8,259.6 L493.4,259.4 L494.0,259.2 L494.7,259.0 L495.3,258.8 L495.9,258.6 L496.5,258.4 L497.2,258.3 L497.8,258.1 L498.4,257.9 L499.0,257.7 L499.6,257.5 L500.3,257.3 L500.9,257.1 L501.5,257.0 L502.1,256.8 L502.8,256.6 L503.4,256.4 L504.0,256.2 L504.6,256.1 L505.2,255.9 L505.9,255.7 L506.5,255.5 L507.1,255.4 L507.7,255.2 L508.4,255.0 L509.0,254.8 L509.6,254.7 L510.2,254.5 L510.8,254.3 L511.5,254.2 L512.1,254.0 L512.7,253.9 L513.3,253.7 L514.0,253.5 L514.6,253.4 L515.2,253.2 L515.8,253.0 L516.4,252.9 L517.1,252.7 L517.7,252.6 L518.3,252.4 L518.9,252.3 L519.6,252.1 L520.2,252.0 L520.8,251.8 L521.4,251.7 L522.0,251.5 L522.7,251.4 L523.3,251.2 L523.9,251.1 L524.5,250.9 L525.2,250.8 L525.8,250.6 L526.4,250.5 L527.0,250.3 L527.6,250.2 L528.3,250.1 L528.9,249.9 L529.5,249.8 L530.1,249.6 L530.8,249.5 L531.4,249.4 L532.0,249.2 L532.6,249.1 L533.2,248.9 L533.9,248.8 L534.5,248.7 L535.1,248.5 L535.7,248.4 L536.4,248.3 L537.0,248.1 L537.6,248.0 L538.2,247.9 L538.8,247.8 L539.5,247.6 L540.1,247.5 L540.7,247.4 L541.3,247.3 L542.0,247.1 L542.6,247.0 L543.2,246.9 L543.8,246.8 L544.4,246.6 L545.1,246.5 L545.7,246.4 L546.3,246.3 L546.9,246.1 L547.6,246.0 L548.2,245.9 L548.8,245.8 L549.4,245.7 L550.1,245.6 L550.7,245.4 L551.3,245.3 L551.9,245.2 L552.5,245.1 L553.2,245.0 L553.8,244.9 L554.4,244.7 L555.0,244.6 L555.7,244.5 L556.3,244.4 L556.9,244.3 L557.5,244.2 L558.1,244.1 L558.8,244.0 L559.4,243.9 L560.0,243.8 L560.6,243.6 L561.3,243.5 L561.9,243.4 L562.5,243.3 L563.1,243.2 L563.7,243.1 L564.4,243.0 L565.0,242.9 L565.6,242.8 L566.2,242.7 L566.9,242.6 L567.5,242.5 L568.1,242.4 L568.7,242.3 L569.3,242.2 L570.0,242.1 L570.6,242.0 L571.2,241.9 L571.8,241.8 L572.5,241.7 L573.1,241.6 L573.7,241.5 L574.3,241.4 L574.9,241.3 L575.6,241.2 L576.2,241.1 L576.8,241.0 L577.4,240.9 L578.1,240.8 L578.7,240.7 L579.3,240.6 L579.9,240.5 L580.5,240.4 L581.2,240.3 L581.8,240.2 L582.4,240.1 L583.0,240.0 L583.7,239.9 L584.3,239.8 L584.9,239.7 L585.5,239.6 L586.1,239.6 L586.8,239.5 L587.4,239.4 L588.0,239.3 L588.6,239.2 L589.3,239.1 L589.9,239.0 L590.5,238.9" fill="none" stroke="#f00" stroke-width="4.0" stroke-linejoin="round"/>
<rect x="338.3" y="186.2" width="255.59999999999997" height="157.7" fill="none" stroke="#111" stroke-width="1.2"/>
<path d="M342.60,186.2v3.4M342.60,343.9v-3.4M350.88,186.2v2.0M350.88,343.9v-2.0M359.15,186.2v2.0M359.15,343.9v-2.0M367.43,186.2v2.0M367.43,343.9v-2.0M375.70,186.2v3.4M375.70,343.9v-3.4M383.98,186.2v2.0M383.98,343.9v-2.0M392.25,186.2v2.0M392.25,343.9v-2.0M400.53,186.2v2.0M400.53,343.9v-2.0M408.80,186.2v3.4M408.80,343.9v-3.4M417.08,186.2v2.0M417.08,343.9v-2.0M425.35,186.2v2.0M425.35,343.9v-2.0M433.62,186.2v2.0M433.62,343.9v-2.0M441.90,186.2v3.4M441.90,343.9v-3.4M450.18,186.2v2.0M450.18,343.9v-2.0M458.45,186.2v2.0M458.45,343.9v-2.0M466.73,186.2v2.0M466.73,343.9v-2.0M475.00,186.2v3.4M475.00,343.9v-3.4M483.28,186.2v2.0M483.28,343.9v-2.0M491.55,186.2v2.0M491.55,343.9v-2.0M499.83,186.2v2.0M499.83,343.9v-2.0M508.10,186.2v3.4M508.10,343.9v-3.4M516.38,186.2v2.0M516.38,343.9v-2.0M524.65,186.2v2.0M524.65,343.9v-2.0M532.93,186.2v2.0M532.93,343.9v-2.0M541.20,186.2v3.4M541.20,343.9v-3.4M549.48,186.2v2.0M549.48,343.9v-2.0M557.75,186.2v2.0M557.75,343.9v-2.0M566.03,186.2v2.0M566.03,343.9v-2.0M574.30,186.2v3.4M574.30,343.9v-3.4M582.58,186.2v2.0M582.58,343.9v-2.0M590.85,186.2v2.0M590.85,343.9v-2.0M338.3,195.30h3.4M593.9,195.30h-3.4M338.3,202.89h2.0M593.9,202.89h-2.0M338.3,210.47h2.0M593.9,210.47h-2.0M338.3,218.06h2.0M593.9,218.06h-2.0M338.3,225.64h2.0M593.9,225.64h-2.0M338.3,233.23h3.4M593.9,233.23h-3.4M338.3,240.82h2.0M593.9,240.82h-2.0M338.3,248.40h2.0M593.9,248.40h-2.0M338.3,255.99h2.0M593.9,255.99h-2.0M338.3,263.57h2.0M593.9,263.57h-2.0M338.3,271.16h3.4M593.9,271.16h-3.4M338.3,278.75h2.0M593.9,278.75h-2.0M338.3,286.33h2.0M593.9,286.33h-2.0M338.3,293.92h2.0M593.9,293.92h-2.0M338.3,301.50h2.0M593.9,301.50h-2.0M338.3,309.09h3.4M593.9,309.09h-3.4M338.3,316.68h2.0M593.9,316.68h-2.0M338.3,324.26h2.0M593.9,324.26h-2.0M338.3,331.85h2.0M593.9,331.85h-2.0M338.3,339.43h2.0M593.9,339.43h-2.0" stroke="#000" stroke-width="1.25" fill="none"/>
<text transform="translate(342.70,365.40) scale(1,1.05)" font-size="20.5" text-anchor="middle">0</text>
<text transform="translate(408.90,365.40) scale(1,1.05)" font-size="20.5" text-anchor="middle">40</text>
<text transform="translate(475.10,365.40) scale(1,1.05)" font-size="20.5" text-anchor="middle">80</text>
<text transform="translate(541.30,365.40) scale(1,1.05)" font-size="20.5" text-anchor="middle">120</text>
<text transform="translate(334.70,202.60) scale(1,1.05)" font-size="20.5" text-anchor="end">0.0</text>
<text transform="translate(334.70,240.53) scale(1,1.05)" font-size="20.5" text-anchor="end">0.1</text>
<rect x="295.7" y="232.58" width="6.0" height="1.9" fill="#000"/>
<text transform="translate(334.70,278.46) scale(1,1.05)" font-size="20.5" text-anchor="end">0.2</text>
<rect x="295.7" y="270.51" width="6.0" height="1.9" fill="#000"/>
<text transform="translate(334.70,316.39) scale(1,1.05)" font-size="20.5" text-anchor="end">0.3</text>
<rect x="295.7" y="308.44" width="6.0" height="1.9" fill="#000"/>
<text transform="translate(467.30,389.40) scale(1,1.02)" font-size="21.23" text-anchor="middle" word-spacing="-1.25">Magnetic field (mT)</text>
<text transform="translate(287.40,263.60) rotate(-90) scale(1,1.04)" font-size="21.1" text-anchor="middle">Polarization</text>
<text transform="translate(503.70,222.90) scale(1,1.05)" font-size="25.2" text-anchor="start" style="fill:#000">45</text>
<circle cx="538.2" cy="209.7" r="4.05" fill="none" stroke="#000" stroke-width="2.0"/>
<text transform="translate(494.60,282.40) scale(1,1.05)" font-size="25.2" text-anchor="start" style="fill:#f00">85</text>
<circle cx="528.4" cy="269.2" r="4.05" fill="none" stroke="#f00" stroke-width="2.0"/>
<text transform="translate(497.00,329.20) scale(1,1.05)" font-size="25.2" text-anchor="start" style="fill:#00f">75</text>
<circle cx="531.1" cy="316.0" r="4.05" fill="none" stroke="#00f" stroke-width="2.0"/>
</svg></body></html>
